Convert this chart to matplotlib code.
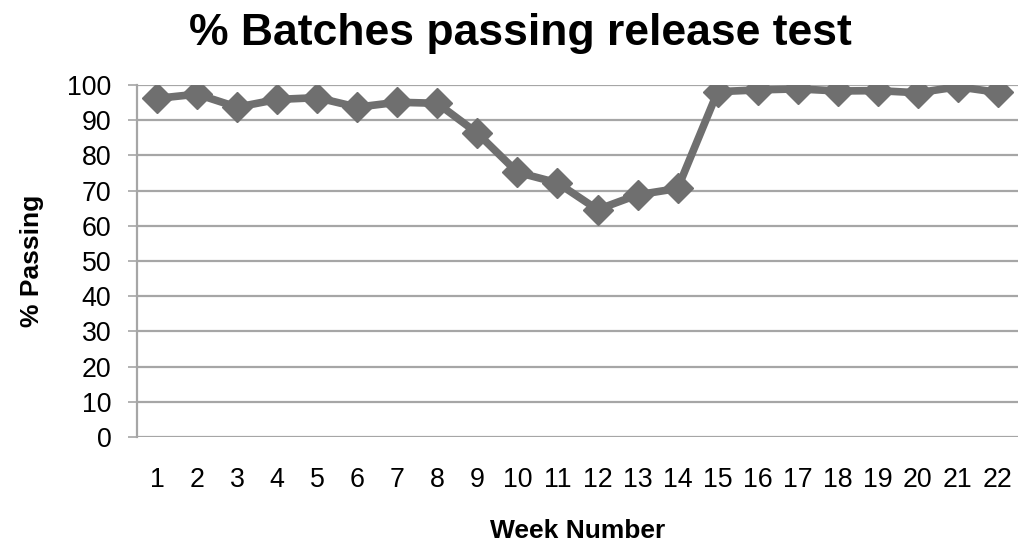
import matplotlib
matplotlib.use("Agg")
import matplotlib.pyplot as plt

weeks = list(range(1, 23))
week_labels = [str(w) for w in weeks]
passing = [96.2, 97.4, 93.7, 95.9, 96.4, 93.7, 95.1, 94.8, 86.3, 75.2, 72.2,
           64.6, 68.8, 70.6, 98.1, 98.6, 98.9, 98.3, 98.4, 97.8, 99.5, 97.9]
y_ticks = list(range(0, 101, 10))

plt.rcParams['font.family'] = ['Liberation Sans', 'DejaVu Sans']

W, H = 1027, 546
fig = plt.figure(figsize=(W / 100, H / 100), dpi=100)
left, right, bottom, top = 137 / W, 1018 / W, 1 - 437 / H, 1 - 85 / H
ax = fig.add_axes([left, bottom, right - left, top - bottom])

grid_c = '#a6a6a6'
line_c = '#6f6f6f'

ax.plot(weeks, passing, color=line_c, lw=5.5, marker='D', markersize=15,
        markeredgecolor=line_c, markerfacecolor=line_c, zorder=3)

ax.set_xlim(0.5, 22.5)
ax.set_ylim(0, 100)
ax.set_yticks(y_ticks)
ax.set_xticks(weeks)
ax.set_xticklabels(week_labels)
ax.yaxis.grid(True, color=grid_c, lw=1.6)
ax.set_axisbelow(True)
for s in ['top', 'right', 'bottom']:
    ax.spines[s].set_visible(False)
ax.spines['left'].set_color(grid_c)
ax.spines['left'].set_linewidth(1.6)
ax.tick_params(axis='y', length=6.5, width=1.2, color=grid_c, pad=12,
               labelsize=19.3, labelcolor='black')
ax.tick_params(axis='x', length=0, pad=21.5, labelsize=19.3, labelcolor='black')

fig.text(520 / W, 1 - 33 / H, '% Batches passing release test',
         fontsize=32, fontweight='bold', ha='center', va='center')
fig.text((left + right) / 2, 1 - 531 / H, 'Week Number',
         fontsize=19, fontweight='bold', ha='center', va='center')
fig.text(32 / W, 1 - 261 / H, '% Passing', rotation=90,
         fontsize=19, fontweight='bold', ha='center', va='center')

fig.savefig('out.png', dpi=100)
